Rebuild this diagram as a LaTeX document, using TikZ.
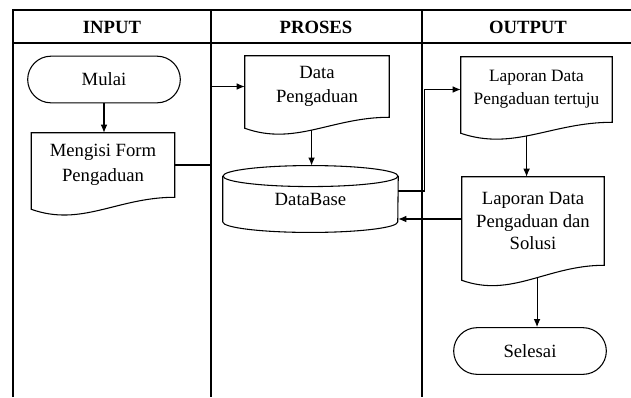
\documentclass[tikz,border=0pt]{standalone}
\usepackage{fontspec}
\setmainfont{Liberation Serif}
\usetikzlibrary{shapes.misc,arrows.meta,calc}

\tikzset{
  garis/.style={line width=0.8pt},
  panah/.style={garis,-{Latex[length=6pt,width=5pt]}},
  judul/.style={inner sep=0.75pt,font=\fontsize{14}{17}\selectfont\bfseries},
  terminal/.style={garis,draw,rounded rectangle,minimum width=116pt,minimum height=35pt,inner sep=0.75pt,font=\fontsize{14}{17}\selectfont},
  dokumen/.style={align=center,inner sep=0pt,font=\fontsize{14}{18.5}\selectfont}
}

% outline of a document symbol round node #2, left side #3 lower than right side,
% (#2-b) is a point on the wavy bottom at pos #1
\newcommand{\gelombang}[3][0.5]{%
  \draw[garis] (#2.north west) -- (#2.north east) -- (#2.south east)
    .. controls ($(#2.south west)!0.6!(#2.south east)$) and ($(#2.south west)!0.35!(#2.south east)+(0,#3+18)$) .. ($(#2.south west)+(0,#3)$) coordinate[pos=#1] (#2-b) -- cycle;}

\begin{document}
\begin{tikzpicture}[x=0.75pt,y=0.75pt,yscale=-1,xscale=1]
\useasboundingbox (0,0) rectangle (631,397);

%Table frame
\draw[garis] (13,397) -- (13,10) -- (631,10) ;
\draw[garis] (13,43) -- (631,43) ;
\draw[garis] (211,10) -- (211,397) ;
\draw[garis] (422,10) -- (422,397) ;

% Text Node
\node[judul] (kolin) at (112,27) {INPUT};
% Text Node
\node[judul] (kolproses) at (316,27) {PROSES};
% Text Node
\node[judul] (kolout) at (528,27) {OUTPUT};

%Shape: Terminator
\node[terminal] (mulai) at (104,79.5) {Mulai};
%Shape: Document
\node[dokumen,minimum width=107.25pt,minimum height=48pt] (mengisi) at (103,165) {Mengisi Form\\Pengaduan};
\gelombang{mengisi}{12}
%Shape: Document
\node[dokumen,minimum width=108pt,minimum height=45.75pt] (data) at (317,86.5) {Data\\Pengaduan};
\gelombang[0.52]{data}{11}
%Shape: Cylinder
\node[dokumen,minimum width=131.25pt,minimum height=34pt] (db) at (310.5,199) {DataBase};
\draw[garis] (db.north) ellipse [x radius=87.5, y radius=10.5] ;
\draw[garis] (db.north west) -- (db.south west) arc [start angle=180, end angle=0, x radius=87.5, y radius=10.5] -- (db.north east) ;
%Shape: Document
\node[dokumen,minimum width=113.25pt,minimum height=48.75pt,font=\fontsize{13}{17}\selectfont] (tertuju) at (536.5,89.5) {Laporan Data\\Pengaduan tertuju};
\gelombang[0.55]{tertuju}{11}
%Shape: Document
\node[dokumen,minimum width=106.5pt,minimum height=66pt,font=\fontsize{14}{17}\selectfont] (solusi) at (533,221) {Laporan Data\\Pengaduan dan\\Solusi};
\gelombang[0.45]{solusi}{15}
%Shape: Terminator
\node[terminal] (selesai) at (530,351) {Selesai};

%Straight Lines
\draw[panah] (mulai.south) -- (mulai.south |- mengisi.north) ;
\draw[panah] (mengisi.east) -- ++(37,0) |- (data.west) ;
\draw[panah] (data-b) -- ($(data-b |- db.north)+(0,-10.5)$) ;
\draw[panah] ([yshift=-6pt]db.east) -- ++(26,0) |- (tertuju.west) ;
\draw[panah] (tertuju-b) -- (tertuju-b |- solusi.north) ;
\draw[panah] ([yshift=-1.5pt]solusi.west) -- ([yshift=-1.5pt]solusi.west -| db.east) ;
\draw[panah] (solusi-b) -- (solusi-b |- selesai.north) ;

\end{tikzpicture}
\end{document}
